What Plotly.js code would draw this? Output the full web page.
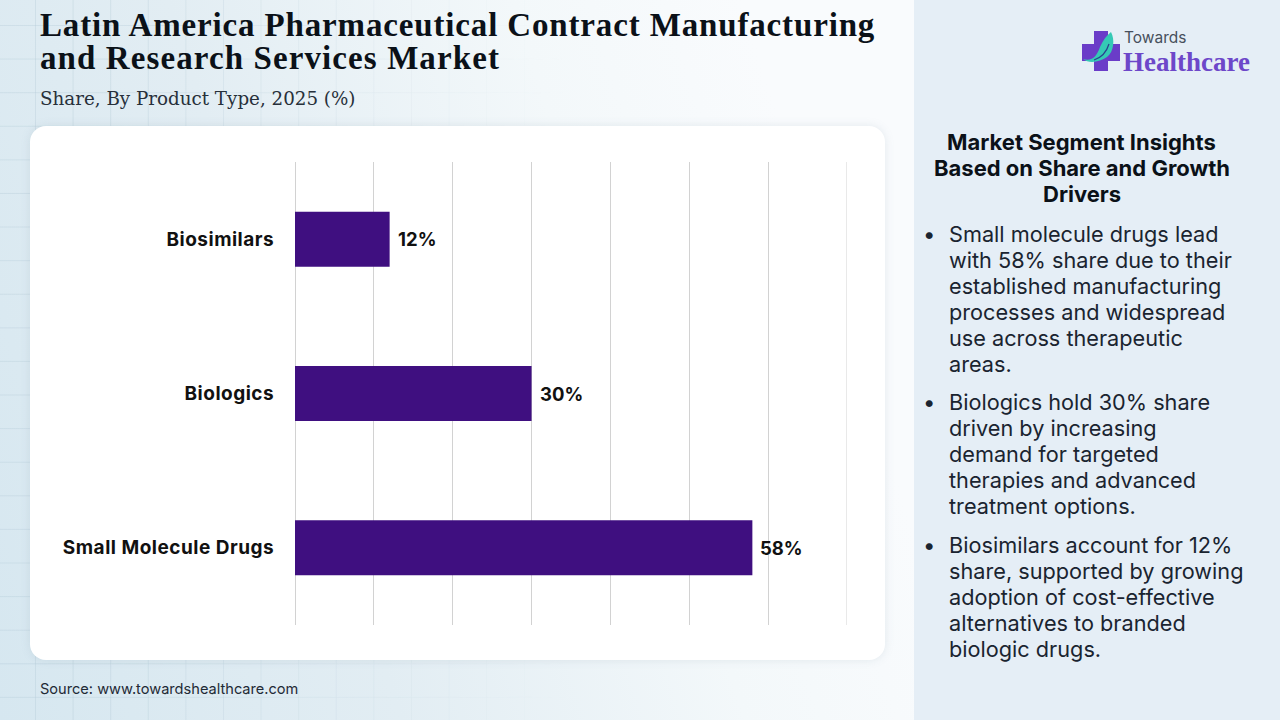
<!DOCTYPE html>
<html><head><meta charset="utf-8">
<script src="https://cdn.plot.ly/plotly-3.0.1.min.js"></script>
<style>
html,body{margin:0;padding:0;width:1280px;height:720px;overflow:hidden}
#bg{position:absolute;left:0;top:0;width:914px;height:720px;
 background:linear-gradient(72deg,#d6e7f0 0%,#e2edf3 35%,#f3f8fa 65%,#f9fbfd 85%,#f9fbfd 100%);}
#grid{position:absolute;left:0;top:0;width:914px;height:720px;
 background:
  linear-gradient(rgba(165,190,205,.26) 1px,transparent 1px) 0 25px/100% 33.6px,
  linear-gradient(90deg,rgba(165,190,205,.26) 1px,transparent 1px) 35px 0/37.6px 100%;
 -webkit-mask-image:linear-gradient(90deg,#000 0%,#000 12%,rgba(0,0,0,.35) 40%,transparent 62%);
 mask-image:linear-gradient(90deg,#000 0%,#000 12%,rgba(0,0,0,.35) 40%,transparent 62%);}
#panel{position:absolute;left:914px;top:0;width:366px;height:720px;background:#e5eef6}
#card{position:absolute;left:30px;top:126px;width:855px;height:534px;background:#fff;border-radius:16px;box-shadow:0 0 10px rgba(120,140,160,.16)}
#icon{position:absolute;left:1080px;top:29px}
#chart{position:absolute;left:0;top:0;width:1280px;height:720px}
.ytick text{letter-spacing:.5px}
</style></head><body>
<div id="bg"></div><div id="grid"></div><div id="panel"></div><div id="card"></div>
<svg id="icon" width="42" height="44" viewBox="0 0 42 44">
 <path d="M14 2h14v13h12v17H28v10H14V32H2V15h12z" fill="#6a3cc8"/>
 <path d="M3 30C12 33 17 27 20 18C23 11 27 6 31 3C35 10 34 23 27 28C20 33 9 35 3 30z" fill="#35c9b5"/>
 <path d="M14 31C20 29 26 25 29 15" fill="none" stroke="#2a3f8f" stroke-width="1.2"/>
</svg>
<div id="chart"></div>
<script>
const categories = ["Small Molecule Drugs", "Biologics", "Biosimilars"];
const shares = [58, 30, 12];
const titleLines = ["Latin America Pharmaceutical Contract Manufacturing", "and Research Services Market"];
const subtitle = "Share, By Product Type, 2025 (%)";
const source = "Source: www.towardshealthcare.com";
const insightHeading = ["Market Segment Insights", "Based on Share and Growth", "Drivers"];
const insightBullets = [
 ["Small molecule drugs lead","with 58% share due to their","established manufacturing","processes and widespread","use across therapeutic","areas."],
 ["Biologics hold 30% share","driven by increasing","demand for targeted","therapies and advanced","treatment options."],
 ["Biosimilars account for 12%","share, supported by growing","adoption of cost-effective","alternatives to branded","biologic drugs."]
];
const L=294.5,R=847.5,T=162,B=625;
const px=x=>(x-L)/(R-L), py=y=>1-(y-T)/(B-T);
function note(text,x,y,font,anchor){return {text,x:px(x),y:py(y),xref:'paper',yref:'paper',showarrow:false,xanchor:anchor||'left',yanchor:'middle',align:anchor||'left',font,borderpad:0};}
const serif='"Liberation Serif", serif', sans='Inter, sans-serif';
const spaced=(t,s)=>'<span style="letter-spacing:'+s+'px"><b>'+t+'</b></span>';
const ann=[];
ann.push(note(spaced(titleLines[1],1.1),38,58,{family:serif,size:33,color:'#0b1118'}));
ann.push(note(subtitle,38,98,{family:'"DejaVu Serif", serif',size:18.3,color:'#27303a'}));
ann.push(note(source,38,689,{family:sans,size:14.6,color:'#1f2a36'}));
ann.push(note('Towards',1124,38,{family:sans,size:15.5,color:'#47505c'}));
ann.push(note('<b>Healthcare</b>',1123,62,{family:serif,size:27,color:'#6d47c9'}));
insightHeading.forEach((t,i)=>ann.push(note('<b>'+t+'</b>',1082.5,142+26*i,{family:sans,size:22,color:'#0b1118'},'center')));
const tops=[234,402,545];
insightBullets.forEach((ls,k)=>{
 ann.push(note('•',923,tops[k],{family:sans,size:22,color:'#1a2430'}));
 ls.forEach((t,i)=>ann.push(note(t,949,tops[k]+26*i,{family:sans,size:21.7,color:'#1a2430'})));
});
categories.forEach((c,i)=>ann.push({text:'<b>'+shares[i]+'%</b>',x:shares[i],y:c,xref:'x',yref:'y',xanchor:'left',yanchor:'middle',xshift:7,yshift:0,showarrow:false,font:{family:sans,size:18.5,color:'#111'},borderpad:0}));
Plotly.newPlot('chart',[{type:'bar',orientation:'h',y:categories,x:shares,
  marker:{color:'#3f0f80'},width:0.356,hoverinfo:'skip'}],
 {width:1280,height:720,paper_bgcolor:'rgba(0,0,0,0)',plot_bgcolor:'rgba(0,0,0,0)',showlegend:false,
  margin:{l:L,r:1280-R,t:T,b:720-B,pad:0},
  title:{text:spaced(titleLines[0],0.85),x:40/1280,xanchor:'left',xref:'container',y:1-24/720,yanchor:'middle',font:{family:serif,size:33,color:'#0b1118'}},
  shapes:[{type:'line',xref:'x',yref:'paper',x0:70,x1:70,y0:0,y1:1,line:{color:'#d2d2d2',width:1},layer:'below'}],
  xaxis:{range:[0,70],dtick:10,tick0:0,showgrid:true,gridcolor:'#d2d2d2',gridwidth:1,zeroline:true,zerolinecolor:'#d2d2d2',zerolinewidth:1,showticklabels:false,ticks:'',showline:false,fixedrange:true},
  yaxis:{type:'category',showgrid:false,zeroline:false,showline:false,ticks:'outside',ticklen:16,tickcolor:'rgba(0,0,0,0)',tickfont:{family:sans,size:19,color:'#111'},fixedrange:true,
   tickmode:'array',tickvals:categories,ticktext:categories.map(c=>'<b>'+c+'</b>')},
  annotations:ann},
 {displayModeBar:false,staticPlot:true});
</script></body></html>
